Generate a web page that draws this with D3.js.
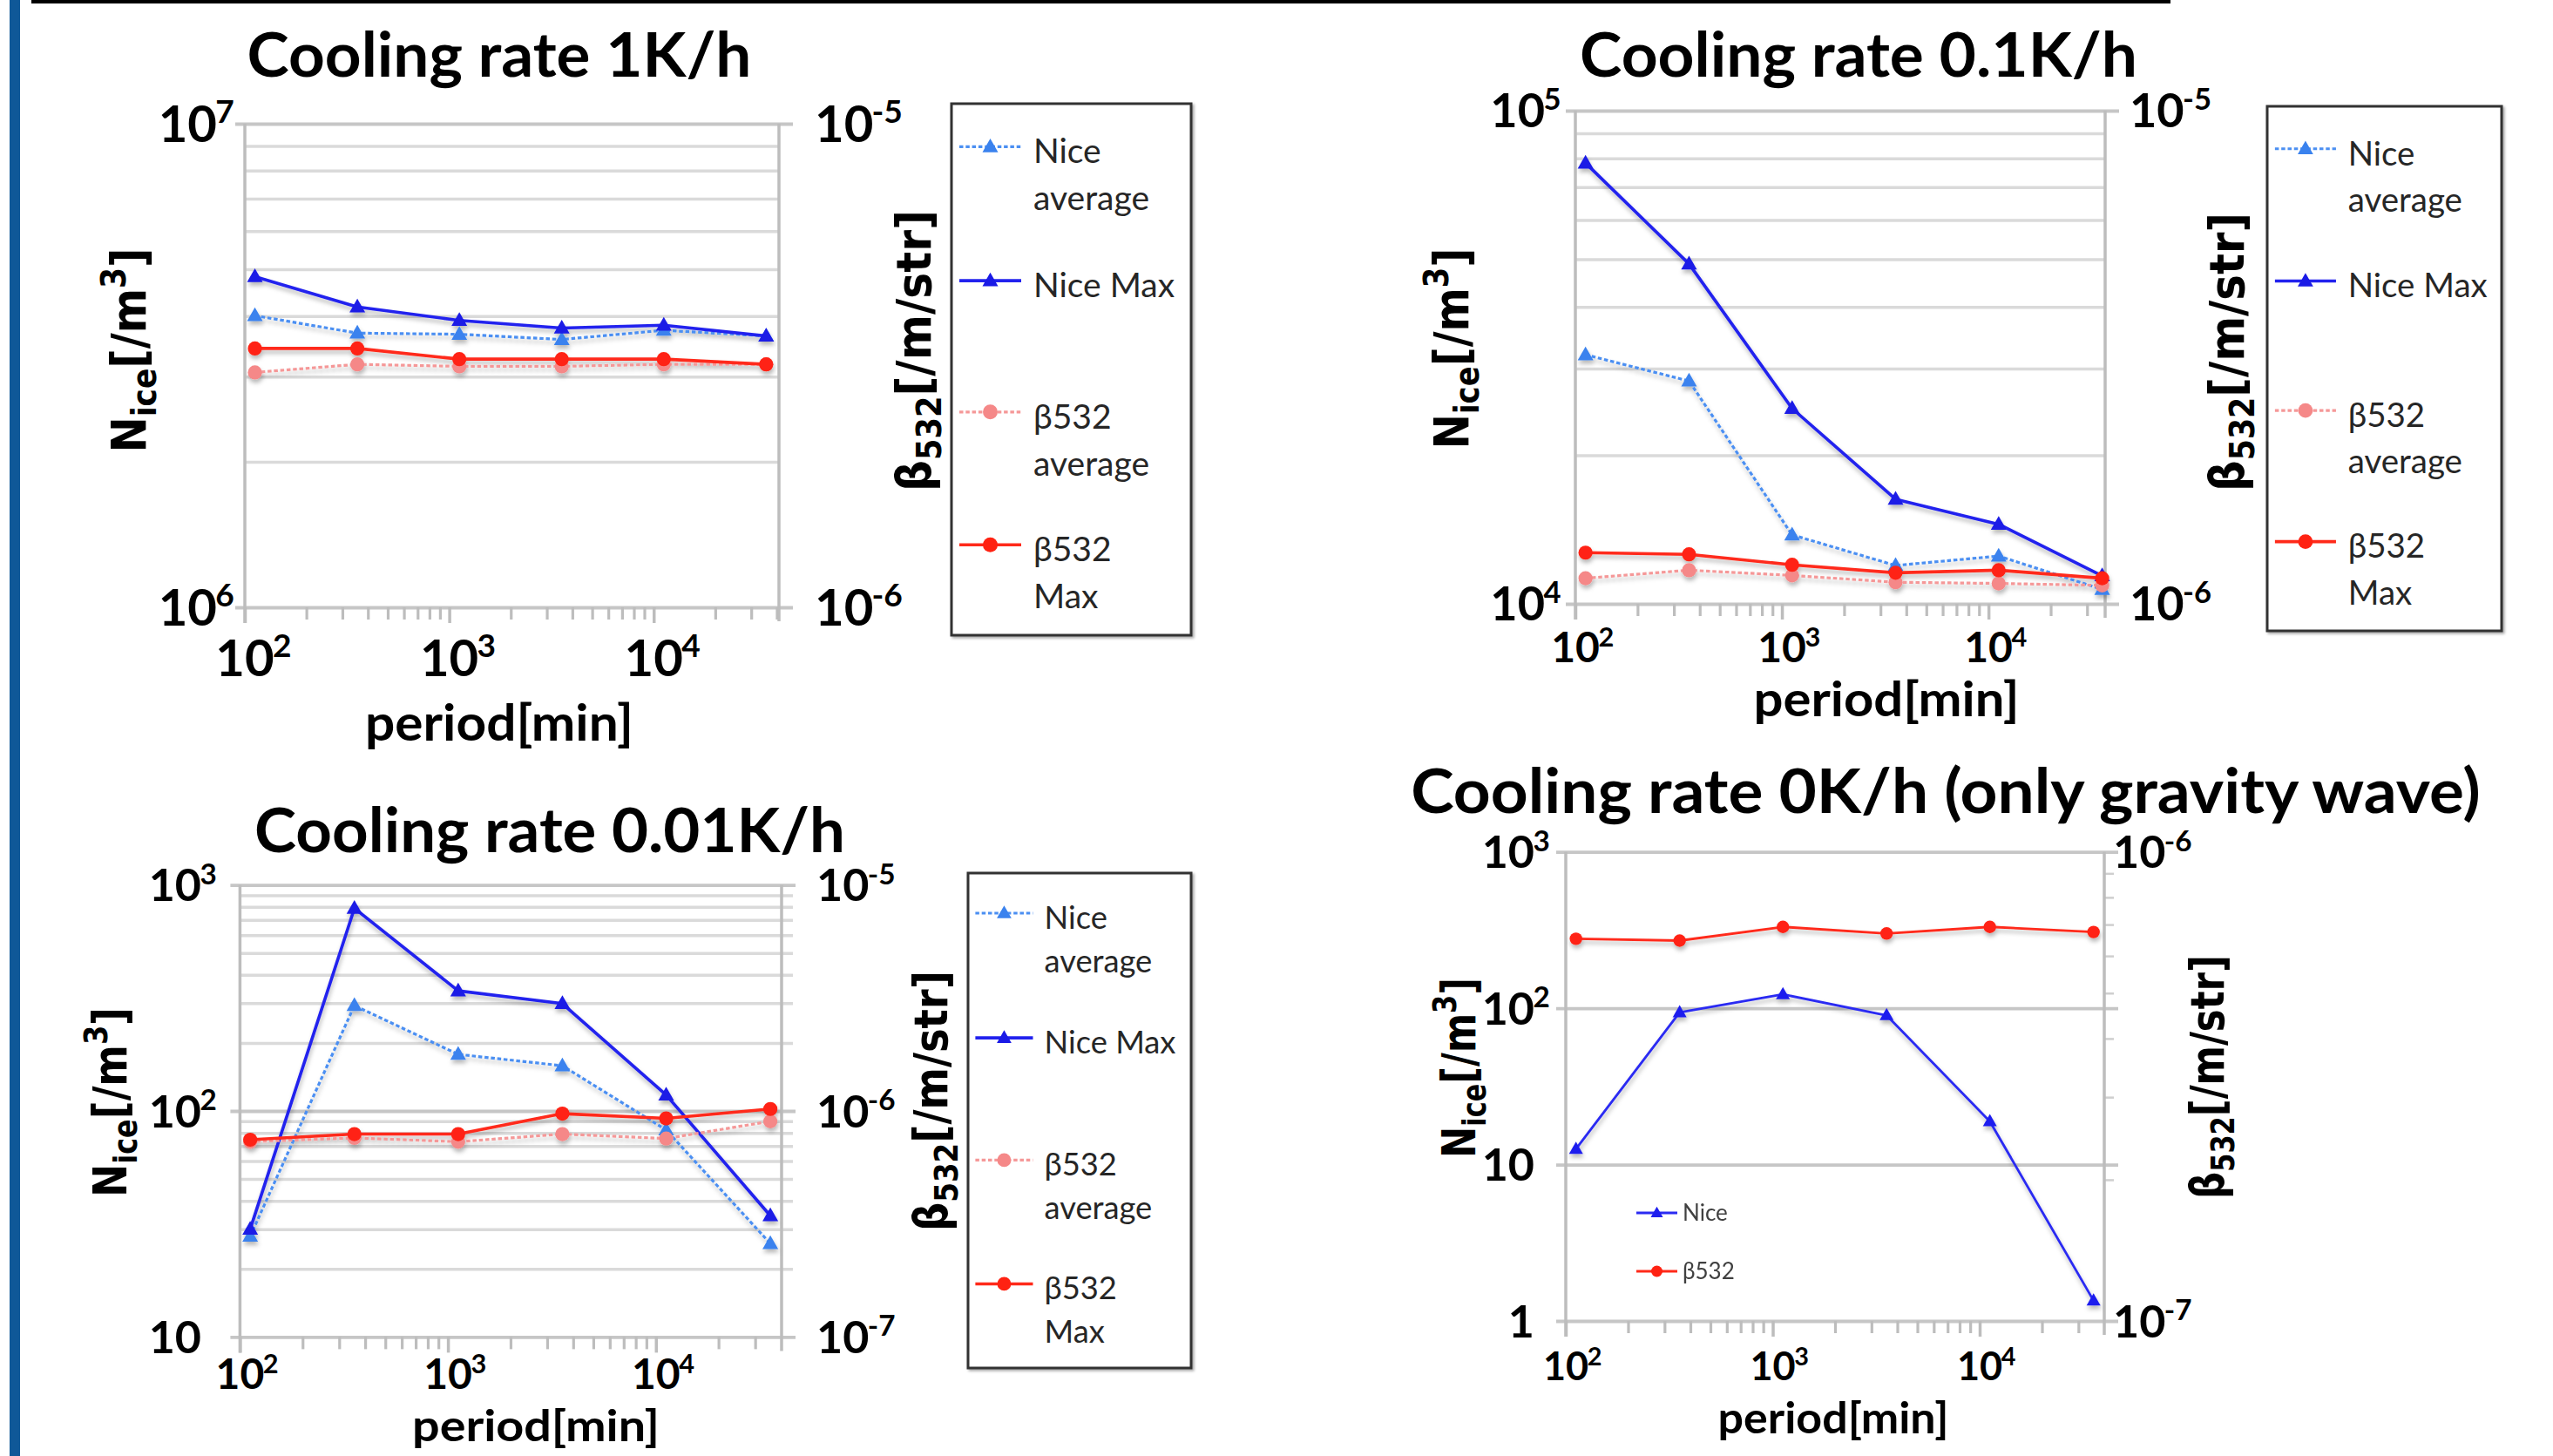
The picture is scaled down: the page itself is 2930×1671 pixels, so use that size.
<!DOCTYPE html>
<html><head><meta charset="utf-8">
<script src="https://cdn.jsdelivr.net/npm/d3@7"></script>
<style>body{margin:0;background:#fff} svg{display:block}</style>
</head><body>
<svg id="c" width="2930" height="1671"></svg>
<script>
// ================= DATA =================
const periods = [112, 355, 1120, 3550, 11200, 35500];   // period [min]

// Cooling rate 1K/h
const niceAvg_1K  = [4.01e6, 3.69e6, 3.67e6, 3.58e6, 3.74e6, 3.64e6];
const niceMax_1K  = [4.83e6, 4.18e6, 3.92e6, 3.78e6, 3.83e6, 3.64e6];
const betaAvg_1K  = [3.06e-6, 3.18e-6, 3.15e-6, 3.15e-6, 3.18e-6, 3.18e-6];
const betaMax_1K  = [3.43e-6, 3.43e-6, 3.26e-6, 3.26e-6, 3.26e-6, 3.18e-6];

// Cooling rate 0.1K/h
const niceAvg_01K = [32.0e3, 28.3e3, 13.8e3, 11.96e3, 12.5e3, 10.7e3];
const niceMax_01K = [78.3e3, 48.9e3, 24.9e3, 16.3e3, 14.5e3, 11.4e3];
const betaAvg_01K = [1.127e-6, 1.17e-6, 1.142e-6, 1.106e-6, 1.10e-6, 1.09e-6];
const betaMax_01K = [1.27e-6, 1.26e-6, 1.20e-6, 1.156e-6, 1.17e-6, 1.127e-6];

// Cooling rate 0.01K/h
const niceAvg_001K = [27.9, 292.6, 178, 158.5, 82.4, 25.9];
const niceMax_001K = [30.0, 788, 340, 298.5, 117.7, 34.4];
const betaAvg_001K = [7.31e-7, 7.6e-7, 7.31e-7, 7.9e-7, 7.55e-7, 9.0e-7];
const betaMax_001K = [7.46e-7, 7.9e-7, 7.9e-7, 9.73e-7, 9.27e-7, 1.02e-6];

// Cooling rate 0K/h (only gravity wave)
const nice_0K = [12.6, 94, 122.7, 90.1, 18.9, 1.35];
const beta_0K = [6.53e-7, 6.47e-7, 6.92e-7, 6.7e-7, 6.92e-7, 6.75e-7];

// tick values (labels are written as 10^n)
const xTicks = [100, 1000, 10000];
const leftTicks_1K = [1e7, 1e6],      rightTicks_1K = [1e-5, 1e-6];
const leftTicks_01K = [1e5, 1e4],     rightTicks_01K = [1e-5, 1e-6];
const leftTicks_001K = [1e3, 1e2, 10], rightTicks_001K = [1e-5, 1e-6, 1e-7];
const leftTicks_0K = [1e3, 1e2, 10, 1], rightTicks_0K = [1e-6, 1e-7];

const titles = ["Cooling rate 1K/h", "Cooling rate 0.1K/h", "Cooling rate 0.01K/h", "Cooling rate 0K/h (only gravity wave)"];
const xTitle = "period[min]";
const legendLabels = [["Nice", "average"], ["Nice Max"], ["β532", "average"], ["β532", "Max"]];
const legendLabels_0K = ["Nice", "β532"];

// ================= STYLE =================
const svg = d3.select('#c');
const defs = svg.append('defs');
const f = defs.append('filter').attr('id', 'sh').attr('x', '-20%').attr('y', '-20%').attr('width', '140%').attr('height', '140%');
f.append('feDropShadow').attr('dx', 1).attr('dy', 4).attr('stdDeviation', 2.5).attr('flood-color', '#000').attr('flood-opacity', 0.28);
const f2 = defs.append('filter').attr('id', 'sh2').attr('x', '-5%').attr('y', '-5%').attr('width', '110%').attr('height', '110%');
f2.append('feDropShadow').attr('dx', 2).attr('dy', 2).attr('stdDeviation', 1.5).attr('flood-color', '#000').attr('flood-opacity', 0.35);

const ST = {
  navg: {stroke: '#4b8ff2', dash: '4.5,2.8', w: 3.2, marker: 'tri', fill: '#3a82ee'},
  nmax: {stroke: '#2222ee', dash: null, w: 3.6, marker: 'tri', fill: '#1a1ae6'},
  bavg: {stroke: '#f59898', dash: '4.5,2.8', w: 3.2, marker: 'circ', fill: '#f58888'},
  bmax: {stroke: '#ff2a1a', dash: null, w: 3.6, marker: 'circ', fill: '#ff2212'},
  n0:   {stroke: '#2b2bf2', dash: null, w: 2.8, marker: 'tri', fill: '#1f1fee'},
  b0:   {stroke: '#ff2a1a', dash: null, w: 2.8, marker: 'circ', fill: '#ff2212'}
};
const triPath = a => `M0,${-a * 1.05}L${a},${a * 0.7}L${-a},${a * 0.7}Z`;

// frame decoration
svg.append('rect').attr('x', 11).attr('y', 0).attr('width', 12).attr('height', 1671).attr('fill', '#0f5898');
svg.append('rect').attr('x', 36).attr('y', 0).attr('width', 2455).attr('height', 4).attr('fill', '#000');

const isDecade = v => Math.abs(Math.log10(v) - Math.round(Math.log10(v))) < 1e-9;

function expLabel(g, v, x, y, F, mode) {
  const e = Math.round(Math.log10(v));
  const base = e === 0 ? '1' : '10';
  const sup = (e === 0 || e === 1) ? null : String(e);
  const t = g.append('text').attr('font-family', 'Lato').attr('font-weight', 700)
    .attr('font-size', F).attr('fill', '#000').attr('y', y).text(base);
  const w = t.node().getComputedTextLength();
  let x0 = mode === 'end' ? x - w : (mode === 'start' ? x : x - w / 2);
  t.attr('x', x0);
  if (sup) g.append('text').attr('font-family', 'Lato').attr('font-weight', 700)
    .attr('font-size', F * 0.64).attr('fill', '#000')
    .attr('x', x0 + w - F * 0.03).attr('y', y - F * 0.38).text(sup);
}

function fitted(g, parts, x, y, F, len, rotate, family, weight) {
  const t = g.append('text').attr('font-family', family).attr('font-weight', weight)
    .attr('font-size', F).attr('fill', '#000').attr('text-anchor', 'middle');
  parts.forEach(p => {
    const ts = t.append('tspan').text(p.t);
    if (p.s) ts.attr('font-size', F * p.s);
    if (p.dy) ts.attr('dy', p.dy * F);
  });
  const w = t.node().getComputedTextLength();
  const k = len / w;
  t.attr('transform', `translate(${x},${y})` + (rotate ? ' rotate(-90)' : '') + ` scale(${k},1)`);
  return t;
}

function drawPanel(p) {
  const g = svg.append('g');
  const x = d3.scaleLog().domain([100, p.xMax]).range([p.L, p.R]);
  const yL = d3.scaleLog().domain(p.yL).range([p.B, p.T]);
  const yR = d3.scaleLog().domain(p.yR).range([p.B, p.T]);
  const minorCol = '#dadada', majorCol = '#c6c6c6', axisCol = '#bdbdbd';

  // minor gridlines (left axis)
  if (p.minorGrid) {
    const minors = yL.ticks().filter(v => !isDecade(v));
    const ga = g.append('g').attr('transform', `translate(${p.L},0)`)
      .call(d3.axisLeft(yL).tickValues(minors).tickSize(-(p.R - p.L + (p.rightMinor ? 13 : 0))).tickFormat(''));
    ga.select('.domain').remove();
    ga.selectAll('.tick line').attr('stroke', minorCol).attr('stroke-width', 3.5);
  }
  // right-axis minor ticks
  if (p.rightMinor && !p.minorGrid) {
    const rm = yR.ticks().filter(v => !isDecade(v));
    const gr = g.append('g').attr('transform', `translate(${p.R},0)`)
      .call(d3.axisRight(yR).tickValues(rm).tickSize(11).tickFormat(''));
    gr.select('.domain').remove();
    gr.selectAll('.tick line').attr('stroke', '#cfcfcf').attr('stroke-width', 2.5);
  }
  // major gridlines
  const majors = yL.ticks().filter(isDecade);
  const gm = g.append('g').attr('transform', `translate(${p.L - 11},0)`)
    .call(d3.axisLeft(yL).tickValues(majors).tickSize(-(p.R - p.L + 11 + 16)).tickFormat(''));
  gm.select('.domain').remove();
  gm.selectAll('.tick line').attr('stroke', majorCol).attr('stroke-width', 3.8);

  // x ticks
  const xt = x.ticks();
  const xMinor = xt.filter(v => !isDecade(v) && v < p.xMax * 0.995);
  const gx1 = g.append('g').attr('transform', `translate(0,${p.B})`)
    .call(d3.axisBottom(x).tickValues(xMinor).tickSize(14).tickFormat(''));
  gx1.select('.domain').remove();
  gx1.selectAll('.tick line').attr('stroke', axisCol).attr('stroke-width', 3.2);
  const gx2 = g.append('g').attr('transform', `translate(0,${p.B})`)
    .call(d3.axisBottom(x).tickValues(xTicks).tickSize(18).tickFormat(''));
  gx2.select('.domain').remove();
  gx2.selectAll('.tick line').attr('stroke', axisCol).attr('stroke-width', 3.5);

  // axis lines
  g.append('line').attr('x1', p.L).attr('x2', p.L).attr('y1', p.T).attr('y2', p.B + 18)
    .attr('stroke', axisCol).attr('stroke-width', 3.5);
  g.append('line').attr('x1', p.R).attr('x2', p.R).attr('y1', p.T).attr('y2', p.B + 16)
    .attr('stroke', axisCol).attr('stroke-width', 3.5);

  // tick labels
  p.leftTicks.forEach(v => expLabel(g, v, p.leftLabelX, yL(v) + p.tickF * 0.36, p.tickF, 'end'));
  p.rightTicks.forEach(v => expLabel(g, v, p.rightLabelX, yR(v) + p.tickF * 0.36, p.tickF, 'start'));
  xTicks.forEach(v => expLabel(g, v, x(v), p.xLabelY, p.xTickF, 'middle'));

  // titles
  fitted(g, [{t: p.title}], p.titleX, p.titleY, 70, p.titleW, false, 'Lato', 700);
  fitted(g, [{t: xTitle}], p.xt.x, p.xt.y, p.xt.f, p.xt.w, false, 'Lato', 700);
  fitted(g, [{t: 'N'}, {t: 'ice', s: 0.7, dy: 0.22}, {t: '[/m', dy: -0.22}, {t: '3', s: 0.7, dy: -0.42}, {t: ']', dy: 0.42}],
    p.yt.x, p.yt.y, p.yt.f, p.yt.len, true, 'DejaVu Sans', 700);
  fitted(g, [{t: 'β'}, {t: '532', s: 0.7, dy: 0.22}, {t: '[/m/str]', dy: -0.22}],
    p.y2t.x, p.y2t.y, p.y2t.f, p.y2t.len, true, 'DejaVu Sans', 700);

  // series
  const sg = g.append('g').attr('filter', 'url(#sh)');
  p.series.forEach(s => {
    const st = ST[s.style];
    const ys = s.axis === 'L' ? yL : yR;
    const line = d3.line().x((d, i) => x(periods[i])).y(d => ys(d));
    sg.append('path').attr('d', line(s.data)).attr('fill', 'none').attr('stroke', st.stroke)
      .attr('stroke-width', st.w).attr('stroke-dasharray', st.dash).attr('stroke-linejoin', 'round');
    s.data.forEach((d, i) => {
      if (st.marker === 'tri') sg.append('path').attr('d', triPath(p.ms || 9))
        .attr('transform', `translate(${x(periods[i])},${ys(d)})`).attr('fill', st.fill);
      else sg.append('circle').attr('cx', x(periods[i])).attr('cy', ys(d)).attr('r', (p.ms || 9) * 0.9).attr('fill', st.fill);
    });
  });

  // legend
  if (p.legend) {
    const L = p.legend, s = L.h / 610;
    g.append('rect').attr('x', L.x).attr('y', L.y).attr('width', L.w).attr('height', L.h)
      .attr('fill', '#fff').attr('stroke', '#333').attr('stroke-width', 3).attr('filter', 'url(#sh2)');
    const fr = [0.081, 0.333, 0.58, 0.83];
    const keys = ['navg', 'nmax', 'bavg', 'bmax'];
    keys.forEach((k, i) => {
      const st = ST[k];
      const ly = L.y + fr[i] * L.h;
      const x0 = L.x + 9 * s, x1 = L.x + 80 * s, xm = (x0 + x1) / 2;
      g.append('line').attr('x1', x0).attr('x2', x1).attr('y1', ly).attr('y2', ly)
        .attr('stroke', st.stroke).attr('stroke-width', st.w).attr('stroke-dasharray', st.dash);
      if (st.marker === 'tri') g.append('path').attr('d', triPath(9 * s)).attr('transform', `translate(${xm},${ly})`).attr('fill', st.fill);
      else g.append('circle').attr('cx', xm).attr('cy', ly).attr('r', 8.5 * s).attr('fill', st.fill);
      legendLabels[i].forEach((txt, j) => {
        g.append('text').attr('x', L.x + 94 * s).attr('y', ly + 19 * s + j * 54 * s)
          .attr('font-family', 'Lato').attr('font-size', 39 * s).attr('fill', '#262626').text(txt);
      });
    });
  }
  if (p.legend0) {
    const L = p.legend0;
    ['n0', 'b0'].forEach((k, i) => {
      const st = ST[k];
      const ly = L.ys[i];
      g.append('line').attr('x1', L.x0).attr('x2', L.x1).attr('y1', ly).attr('y2', ly)
        .attr('stroke', st.stroke).attr('stroke-width', st.w);
      const xm = (L.x0 + L.x1) / 2;
      if (st.marker === 'tri') g.append('path').attr('d', triPath(7)).attr('transform', `translate(${xm},${ly})`).attr('fill', st.fill);
      else g.append('circle').attr('cx', xm).attr('cy', ly).attr('r', 6.5).attr('fill', st.fill);
      g.append('text').attr('x', L.x1 + 6).attr('y', ly + 9).attr('font-family', 'Lato')
        .attr('font-size', 26).attr('fill', '#404040').text(legendLabels_0K[i]);
    });
  }
}

// ================= PANELS =================
drawPanel({
  title: titles[0], titleX: 573, titleY: 88, titleW: 579,
  L: 281, R: 894, T: 142, B: 697, xMax: 41000, yL: [1e6, 1e7], yR: [1e-6, 1e-5],
  minorGrid: true, rightMinor: false,
  leftTicks: leftTicks_1K, rightTicks: rightTicks_1K, leftLabelX: 249, rightLabelX: 935,
  tickF: 58, xTickF: 58, xLabelY: 776,
  xt: {x: 573, y: 850, w: 308, f: 58},
  yt: {x: 167, y: 402, len: 235, f: 55},
  y2t: {x: 1068, y: 402.5, len: 323, f: 55},
  legend: {x: 1092, y: 119, w: 275, h: 610},
  series: [{data: niceAvg_1K, axis: 'L', style: 'navg'}, {data: niceMax_1K, axis: 'L', style: 'nmax'},
           {data: betaAvg_1K, axis: 'R', style: 'bavg'}, {data: betaMax_1K, axis: 'R', style: 'bmax'}]
});
drawPanel({
  title: titles[1], titleX: 2133, titleY: 88, titleW: 640,
  L: 1808, R: 2416, T: 127, B: 693, xMax: 36700, yL: [1e4, 1e5], yR: [1e-6, 1e-5],
  minorGrid: true, rightMinor: false,
  leftTicks: leftTicks_01K, rightTicks: rightTicks_01K, leftLabelX: 1773, rightLabelX: 2444,
  tickF: 54, xTickF: 48, xLabelY: 760,
  xt: {x: 2165, y: 822, w: 305, f: 55},
  yt: {x: 1685, y: 400, len: 231, f: 55},
  y2t: {x: 2575, y: 404, len: 320, f: 55},
  legend: {x: 2602, y: 122, w: 269, h: 602},
  series: [{data: niceAvg_01K, axis: 'L', style: 'navg'}, {data: niceMax_01K, axis: 'L', style: 'nmax'},
           {data: betaAvg_01K, axis: 'R', style: 'bavg'}, {data: betaMax_01K, axis: 'R', style: 'bmax'}]
});
drawPanel({
  title: titles[2], titleX: 631, titleY: 978, titleW: 678,
  L: 275.4, R: 897, T: 1015.6, B: 1534.4, xMax: 40200, yL: [10, 1000], yR: [1e-7, 1e-5],
  minorGrid: true, rightMinor: true,
  leftTicks: leftTicks_001K, rightTicks: rightTicks_001K, leftLabelX: 231, rightLabelX: 937,
  tickF: 52, xTickF: 48, xLabelY: 1594,
  xt: {x: 615, y: 1654, w: 284, f: 50},
  yt: {x: 145, y: 1265, len: 218, f: 53},
  y2t: {x: 1087, y: 1263.5, len: 299, f: 53},
  legend: {x: 1111, y: 1002, w: 256, h: 568},
  series: [{data: niceAvg_001K, axis: 'L', style: 'navg'}, {data: niceMax_001K, axis: 'L', style: 'nmax'},
           {data: betaAvg_001K, axis: 'R', style: 'bavg'}, {data: betaMax_001K, axis: 'R', style: 'bmax'}]
});
drawPanel({
  title: titles[3], titleX: 2233, titleY: 933, titleW: 1228,
  L: 1797, R: 2415, T: 977.7, B: 1516, xMax: 40000, yL: [1, 1000], yR: [1e-7, 1e-6],
  minorGrid: false, rightMinor: true, ms: 8,
  leftTicks: leftTicks_0K, rightTicks: rightTicks_0K, leftLabelX: 1761, rightLabelX: 2425,
  tickF: 52, xTickF: 45, xLabelY: 1584,
  xt: {x: 2104, y: 1645, w: 265, f: 50},
  yt: {x: 1693, y: 1225.5, len: 207, f: 53},
  y2t: {x: 2552, y: 1236, len: 280, f: 53},
  legend0: {x0: 1878, x1: 1925, ys: [1392, 1459]},
  series: [{data: nice_0K, axis: 'L', style: 'n0'}, {data: beta_0K, axis: 'R', style: 'b0'}]
});
</script>
</body></html>
